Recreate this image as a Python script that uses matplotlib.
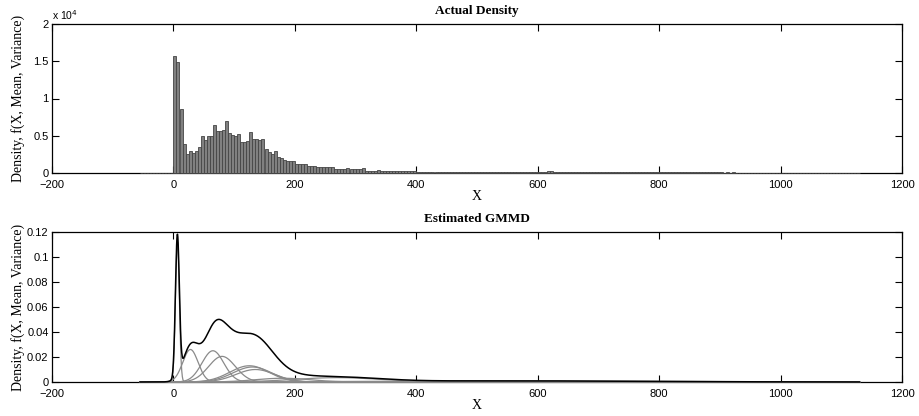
import numpy as np
import matplotlib.pyplot as plt

# histogram of the data, bin width 5 starting at 0 (heights in units of 10^4)
bin_width = 5
first_empty_bin = -55
hist_heights_e4 = [
    1.565, 1.485, 0.86, 0.39, 0.26, 0.30, 0.27, 0.29, 0.35, 0.50,
    0.44, 0.49, 0.49, 0.645, 0.56, 0.57, 0.58, 0.70, 0.54, 0.51,
    0.49, 0.53, 0.42, 0.42, 0.43, 0.55, 0.45, 0.45, 0.44, 0.46,
    0.32, 0.28, 0.26, 0.30, 0.21, 0.20, 0.17, 0.16, 0.16, 0.16,
    0.12, 0.12, 0.12, 0.116, 0.10, 0.094, 0.094, 0.085, 0.085, 0.076,
    0.076, 0.076, 0.085, 0.058, 0.058, 0.058, 0.058, 0.067, 0.05, 0.05,
    0.05, 0.05, 0.063, 0.03, 0.03, 0.03, 0.03, 0.04, 0.022, 0.022,
    0.022, 0.022, 0.022, 0.022, 0.027, 0.027, 0.027, 0.027, 0.027, 0.027,
    0.020, 0.018, 0.020, 0.017, 0.019, 0.018, 0.016, 0.018, 0.017, 0.016,
    0.017, 0.015, 0.016, 0.015, 0.017, 0.014, 0.015, 0.016, 0.014, 0.015,
    0.014, 0.015, 0.013, 0.014, 0.015, 0.013, 0.014, 0.013, 0.014, 0.012,
    0.013, 0.014, 0.012, 0.013, 0.012, 0.014, 0.013, 0.012, 0.013, 0.012,
    0.014, 0.018, 0.020, 0.022, 0.021, 0.020, 0.019, 0.018, 0.016, 0.014,
    0.013, 0.012, 0.013, 0.012, 0.011, 0.012, 0.011, 0.012, 0.011, 0.010,
    0.011, 0.010, 0.011, 0.010, 0.011, 0.010, 0.009, 0.010, 0.011, 0.010,
    0.009, 0.010, 0.009, 0.010, 0.009, 0.010, 0.011, 0.010, 0.009, 0.010,
    0.012, 0.014, 0.013, 0.014, 0.012, 0.011, 0.010, 0.009, 0.010, 0.009,
    0.008, 0.009, 0.008, 0.009, 0.008, 0.007, 0.008, 0.007, 0.008, 0.007,
    0.007, 0.006, 0.007, 0.006, 0.007, 0.006, 0.006, 0.005, 0.006, 0.005,
    0.006, 0.005, 0.005, 0.006, 0.005, 0.004, 0.005, 0.004, 0.005, 0.004,
    0.004, 0.003, 0.004, 0.003, 0.003, 0.003, 0.002, 0.003, 0.002, 0.002,
    0.002, 0.002, 0.002, 0.001, 0.002, 0.001, 0.001, 0.001, 0.001, 0.001,
    0.001, 0.001, 0.001, 0.001, 0.001, 0.0,
]

# estimated gaussian mixture components (mean, std, peak height)
comp_means = [6.5, 28, 65, 80, 125, 130, 135, 180, 270, 550]
comp_sigmas = [3.2, 12.6, 18, 22, 32, 32, 32, 45, 70, 220]
comp_peaks = [0.112, 0.026, 0.025, 0.0205, 0.013, 0.012, 0.010, 0.003, 0.0035, 0.0009]

x_ticks = [-200, 0, 200, 400, 600, 800, 1000, 1200]
top_yticks = [0, 0.5, 1, 1.5, 2]
bottom_yticks = [0, 0.02, 0.04, 0.06, 0.08, 0.1, 0.12]

serif = 'Liberation Serif'
sans = 'Liberation Sans'
plt.rcParams['font.family'] = sans

fig = plt.figure(figsize=(9.19, 4.16), dpi=100)
ax1 = fig.add_axes([52/919, 1 - 173/416, 850/919, 149/416])
ax2 = fig.add_axes([52/919, 1 - 382/416, 850/919, 150/416])

# top: actual density histogram
n_empty = int(-first_empty_bin / bin_width)
heights = np.concatenate([np.zeros(n_empty), hist_heights_e4])
lefts = first_empty_bin + bin_width * np.arange(len(heights))
ax1.bar(lefts, heights, width=bin_width, align='edge', color='#808080',
        edgecolor='#454545', linewidth=0.6, zorder=3, clip_on=False)
ax1.set_ylim(0, 2)
ax1.set_yticks(top_yticks)
ax1.set_yticklabels(['0', '0.5', '1', '1.5', '2'])
ax1.text(0.0, 1.025, r'x 10$^4$', transform=ax1.transAxes, fontsize=7.5)
ax1.set_title('Actual Density', fontfamily=serif, fontweight='bold', fontsize=9.5, pad=7)

# bottom: estimated GMM
xs = np.linspace(first_empty_bin, lefts[-1] + bin_width, 2400)
total = np.zeros_like(xs)
for m, s, p in zip(comp_means, comp_sigmas, comp_peaks):
    y = p * np.exp(-0.5 * ((xs - m) / s) ** 2)
    total += y
    ax2.plot(xs, y, color='#8a8a8a', linewidth=0.9, zorder=3, clip_on=False)
ax2.plot(xs, total, color='black', linewidth=1.1, zorder=4, clip_on=False)
ax2.set_ylim(0, 0.12)
ax2.set_yticks(bottom_yticks)
ax2.set_yticklabels(['0', '0.02', '0.04', '0.06', '0.08', '0.1', '0.12'])
ax2.set_title('Estimated GMMD', fontfamily=serif, fontweight='bold', fontsize=9.5, pad=7)

for ax in (ax1, ax2):
    ax.set_xlim(-200, 1200)
    ax.set_xticks(x_ticks)
    ax.tick_params(direction='in', top=True, right=True, length=5, width=0.8,
                   labelsize=8)
    ax.tick_params(axis='x', pad=5)
    ax.tick_params(axis='y', pad=2.5)
    for sp in ax.spines.values():
        sp.set_linewidth(0.9)
    ax.set_xlabel('X', fontfamily=serif, fontsize=10, labelpad=0)
    ax.set_ylabel('Density, f(X, Mean, Variance)', fontfamily=serif, fontsize=10)
    ax.yaxis.set_label_coords(-0.032, 0.5)

fig.savefig('out.png', dpi=100)
